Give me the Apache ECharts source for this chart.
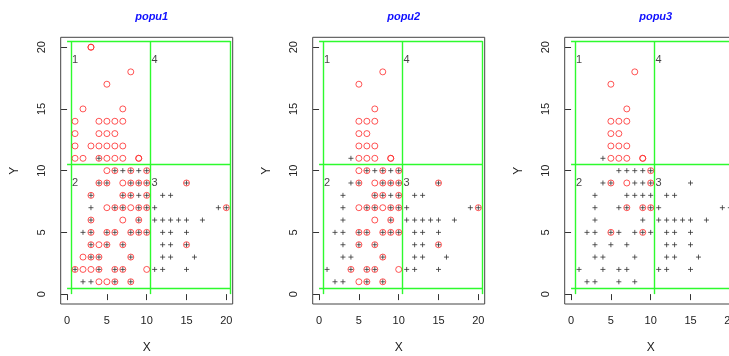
<!DOCTYPE html>
<html>
<head>
<meta charset="utf-8">
<script src="https://cdn.jsdelivr.net/npm/echarts@6.0.0/dist/echarts.min.js"></script>
<style>
  html, body { margin: 0; padding: 0; background: #fff; }
  #chart { width: 729px; height: 356px; }
</style>
</head>
<body>
<div id="chart"></div>
<script>
// panel titles and tick labels
const titles = ['popu1', 'popu2', 'popu3'];
const xTicks = [0, 5, 10, 15, 20];
const yTicks = [0, 5, 10, 15, 20];

// whole population (black +), same in every panel
const population = [
  [4, 11],
  [6, 10], [7, 10], [8, 10], [9, 10], [10, 10],
  [4, 9], [5, 9], [8, 9], [9, 9], [10, 9], [15, 9],
  [3, 8], [7, 8], [8, 8], [9, 8], [10, 8], [12, 8], [13, 8],
  [3, 7], [6, 7], [7, 7], [9, 7], [10, 7], [11, 7], [19, 7], [20, 7],
  [3, 6], [9, 6], [11, 6], [12, 6], [13, 6], [14, 6], [15, 6], [17, 6],
  [2, 5], [3, 5], [5, 5], [6, 5], [8, 5], [9, 5], [10, 5], [12, 5], [13, 5], [15, 5],
  [3, 4], [5, 4], [7, 4], [12, 4], [13, 4], [15, 4],
  [3, 3], [4, 3], [8, 3], [12, 3], [13, 3], [16, 3],
  [1, 2], [4, 2], [6, 2], [7, 2], [11, 2], [12, 2], [15, 2],
  [2, 1], [3, 1], [6, 1], [8, 1]
];

// red circles for each panel
const sample1 = [
  [3, 20], [3, 20], [8, 18], [5, 17], [2, 15], [7, 15],
  [1, 14], [4, 14], [5, 14], [6, 14], [7, 14],
  [1, 13], [4, 13], [5, 13], [6, 13],
  [1, 12], [3, 12], [4, 12], [5, 12], [6, 12], [7, 12],
  [1, 11], [2, 11], [4, 11], [5, 11], [6, 11], [7, 11], [9, 11], [9, 11],
  [5, 10], [6, 10], [8, 10], [10, 10],
  [4, 9], [5, 9], [7, 9], [8, 9], [9, 9], [10, 9], [15, 9],
  [3, 8], [7, 8], [8, 8], [10, 8],
  [5, 7], [6, 7], [7, 7], [8, 7], [9, 7], [10, 7], [20, 7],
  [3, 6], [7, 6], [9, 6],
  [3, 5], [5, 5], [6, 5], [8, 5], [9, 5], [10, 5],
  [3, 4], [4, 4], [5, 4], [7, 4], [15, 4],
  [2, 3], [3, 3], [4, 3], [8, 3],
  [1, 2], [2, 2], [3, 2], [4, 2], [6, 2], [7, 2], [10, 2],
  [4, 1], [5, 1], [6, 1], [8, 1]
];
const sample2 = [
  [8, 18], [5, 17], [7, 15],
  [5, 14], [6, 14], [7, 14],
  [5, 13], [6, 13],
  [5, 12], [6, 12], [7, 12],
  [5, 11], [6, 11], [7, 11], [9, 11], [9, 11],
  [5, 10], [6, 10], [8, 10], [10, 10],
  [5, 9], [7, 9], [8, 9], [9, 9], [10, 9], [15, 9],
  [7, 8], [8, 8], [10, 8],
  [5, 7], [6, 7], [7, 7], [8, 7], [9, 7], [10, 7], [20, 7],
  [7, 6], [9, 6],
  [5, 5], [6, 5], [8, 5], [9, 5], [10, 5],
  [5, 4], [7, 4], [15, 4],
  [8, 3],
  [4, 2], [6, 2], [7, 2], [10, 2],
  [5, 1], [6, 1], [8, 1]
];
const sample3 = [
  [8, 18], [5, 17], [7, 15],
  [5, 14], [6, 14], [7, 14],
  [5, 13], [6, 13],
  [5, 12], [6, 12], [7, 12],
  [5, 11], [6, 11], [7, 11], [9, 11], [9, 11],
  [10, 10],
  [5, 9], [7, 9], [10, 9],
  [7, 7], [9, 7], [10, 7],
  [5, 5], [9, 5]
];
const samples = [sample1, sample2, sample3];

// green cut lines and quadrant numbers
const cutX = [0.5, 10.5, 20.5];
const cutY = [0.5, 10.5, 20.5];
const quadLabels = [['1', 1, 19], ['2', 1, 9], ['3', 11, 9], ['4', 11, 19]];

const panelLeft = [60.7, 312.7, 564.7];
const panelTop = 37.3, panelW = 172, panelH = 266.7;
const tickFont = { fontFamily: 'Liberation Sans, Arial, sans-serif', fontSize: 11, color: '#222' };

let chart = echarts.init(document.getElementById('chart'), null, { renderer: 'canvas' });

let grids = [], xAxes = [], yAxes = [], series = [], titleList = [];
titles.forEach((t, i) => {
  grids.push({
    left: panelLeft[i], top: panelTop, width: panelW, height: panelH,
    outerBoundsMode: 'none', containLabel: false,
    show: true, borderColor: '#444', borderWidth: 1, backgroundColor: 'transparent'
  });
  titleList.push({
    text: t,
    left: panelLeft[i] + panelW / 2,
    top: 6,
    textAlign: 'center',
    textStyle: { color: '#1010ff', fontSize: 11, fontStyle: 'italic', fontWeight: 'bold', fontFamily: 'Liberation Sans, Arial, sans-serif' }
  });
  xAxes.push({
    gridIndex: i, type: 'value', min: -0.8, max: 20.8,
    name: 'X', nameLocation: 'middle', nameGap: 38,
    nameTextStyle: { fontFamily: 'Liberation Sans, Arial, sans-serif', fontSize: 12, color: '#222' },
    axisLine: { show: false },
    axisTick: { show: true, inside: false, length: 6, customValues: xTicks, lineStyle: { color: '#333' } },
    axisLabel: Object.assign({ customValues: xTicks, margin: 11 }, tickFont),
    splitLine: { show: false }
  });
  yAxes.push({
    gridIndex: i, type: 'value', min: -0.8, max: 20.8,
    name: 'Y', nameLocation: 'middle', nameGap: 40, nameRotate: 90,
    nameTextStyle: { fontFamily: 'Liberation Sans, Arial, sans-serif', fontSize: 12, color: '#222' },
    axisLine: { show: false },
    axisTick: { show: true, inside: false, length: 6, customValues: yTicks, lineStyle: { color: '#333' } },
    axisLabel: Object.assign({ customValues: yTicks, margin: 13, rotate: 90 }, tickFont),
    splitLine: { show: false }
  });

  let segs = [];
  cutY.forEach(y => segs.push([{ coord: [0, y] }, { coord: [20.5, y] }]));
  cutX.forEach(x => segs.push([{ coord: [x, 0] }, { coord: [x, 20.5] }]));

  series.push({
    type: 'scatter', xAxisIndex: i, yAxisIndex: i,
    data: population,
    symbol: 'path://M5,0L5,10M0,5L10,5',
    symbolSize: 5,
    itemStyle: { color: 'none', borderColor: '#333', borderWidth: 1 },
    silent: true, z: 3,
    markLine: {
      silent: true, symbol: 'none', label: { show: false },
      lineStyle: { color: '#2dfa2d', width: 1.4, type: 'solid' },
      data: segs, z: 2
    }
  });
  series.push({
    type: 'scatter', xAxisIndex: i, yAxisIndex: i,
    data: samples[i],
    symbol: 'circle', symbolSize: 6,
    itemStyle: { color: 'none', borderColor: '#ff2a2a', borderWidth: 1 },
    silent: true, z: 4
  });
  series.push({
    type: 'scatter', xAxisIndex: i, yAxisIndex: i,
    data: quadLabels.map(q => ({ name: q[0], value: [q[1], q[2]] })),
    symbolSize: 0, silent: true, z: 5,
    label: {
      show: true, position: 'inside', formatter: '{b}',
      fontFamily: 'Liberation Sans, Arial, sans-serif', fontSize: 11, color: '#111'
    }
  });
});

chart.setOption({
  animation: false,
  title: titleList,
  grid: grids,
  xAxis: xAxes,
  yAxis: yAxes,
  series: series
});
</script>
</body>
</html>
